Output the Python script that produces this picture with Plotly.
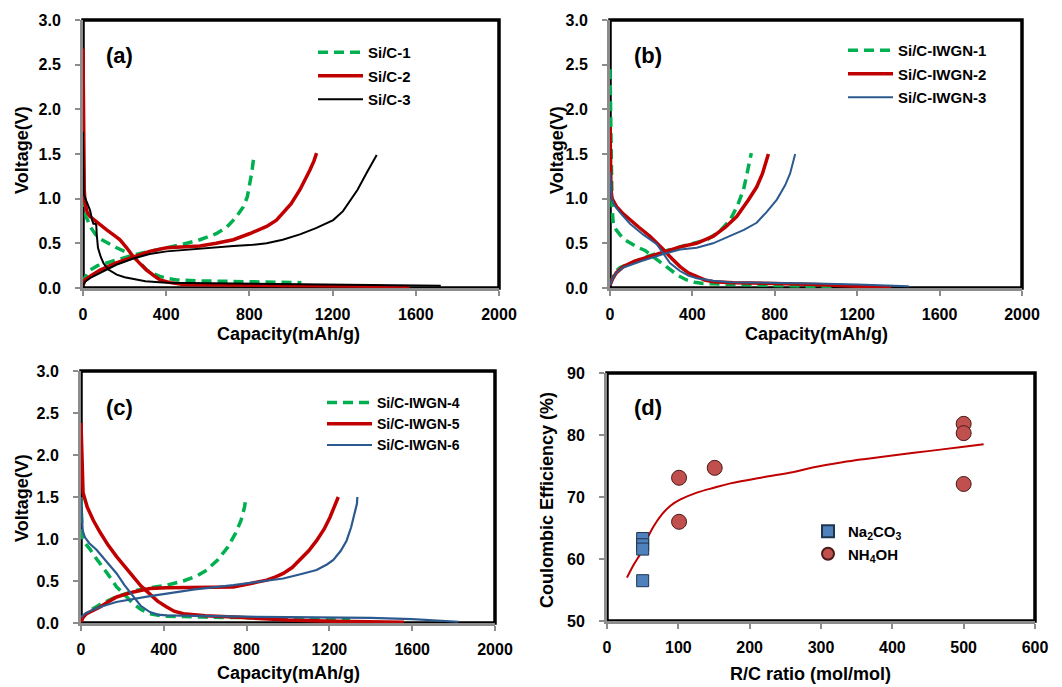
import plotly.graph_objects as go

W, H = 1062, 687
FONT = "Liberation Sans, Arial, sans-serif"
GREEN = "#00B050"
RED = "#C00000"
BLACK = "#000000"
BLUE = "#2C5A8F"

# ---------------- Panel (a) ----------------
a1_dis_x = [0, 5, 15, 34, 60, 82, 120, 162, 200, 242, 275, 306, 340, 370, 410, 450, 550, 700, 900, 1050]
a1_dis_y = [1.02, 0.92, 0.80, 0.69, 0.60, 0.55, 0.50, 0.45, 0.41, 0.35, 0.28, 0.20, 0.16, 0.13, 0.105, 0.09, 0.08, 0.075, 0.07, 0.06]
a1_chg_x = [0, 10, 34, 70, 114, 180, 242, 320, 402, 480, 562, 610, 643, 690, 723, 750, 771, 790, 803, 812, 819, 822]
a1_chg_y = [0.05, 0.12, 0.20, 0.25, 0.28, 0.33, 0.37, 0.41, 0.45, 0.49, 0.54, 0.58, 0.61, 0.68, 0.76, 0.84, 0.91, 1.02, 1.17, 1.30, 1.43, 1.46]

a2_dis_x = [0, 2, 4, 6, 10, 20, 34, 70, 114, 150, 178, 210, 242, 275, 306, 340, 370, 420, 482, 600, 800, 1000, 1200, 1400, 1570]
a2_dis_y = [2.68, 2.0, 1.4, 1.1, 0.95, 0.85, 0.80, 0.73, 0.65, 0.59, 0.54, 0.45, 0.35, 0.27, 0.20, 0.14, 0.09, 0.06, 0.04, 0.035, 0.03, 0.03, 0.025, 0.02, 0.0]
a2_chg_x = [0, 10, 40, 82, 160, 242, 320, 402, 480, 562, 640, 723, 803, 883, 930, 963, 1000, 1043, 1070, 1091, 1110, 1123]
a2_chg_y = [0.03, 0.09, 0.14, 0.20, 0.28, 0.35, 0.41, 0.45, 0.46, 0.47, 0.50, 0.54, 0.61, 0.69, 0.76, 0.84, 0.94, 1.10, 1.22, 1.32, 1.42, 1.51]

a3_dis_x = [0, 2, 4, 15, 34, 45, 50, 60, 64, 66, 68, 72, 85, 98, 120, 162, 200, 242, 300, 402, 600, 800, 1000, 1200, 1400, 1600, 1720]
a3_dis_y = [1.75, 1.3, 1.05, 0.98, 0.87, 0.75, 0.72, 0.72, 0.70, 0.60, 0.50, 0.45, 0.35, 0.28, 0.21, 0.15, 0.12, 0.10, 0.075, 0.06, 0.055, 0.05, 0.05, 0.045, 0.04, 0.03, 0.025]
a3_chg_x = [0, 10, 40, 82, 160, 242, 320, 402, 500, 600, 723, 800, 883, 960, 1043, 1120, 1203, 1250, 1284, 1320, 1364, 1390, 1412]
a3_chg_y = [0.03, 0.07, 0.12, 0.17, 0.26, 0.33, 0.38, 0.41, 0.43, 0.45, 0.47, 0.48, 0.50, 0.54, 0.60, 0.67, 0.76, 0.86, 0.97, 1.10, 1.29, 1.40, 1.49]

# ---------------- Panel (b) ----------------
b1_dis_x = [0, 2, 4, 6, 10, 16, 30, 65, 100, 130, 170, 210, 250, 291, 330, 372, 410, 453, 600, 800, 1000, 1100]
b1_dis_y = [2.45, 2.0, 1.4, 1.05, 0.90, 0.72, 0.65, 0.55, 0.50, 0.46, 0.42, 0.35, 0.28, 0.20, 0.14, 0.09, 0.065, 0.05, 0.04, 0.03, 0.02, 0.01]
b1_chg_x = [0, 10, 25, 49, 100, 178, 260, 340, 410, 470, 530, 583, 620, 648, 665, 680, 686]
b1_chg_y = [0.04, 0.10, 0.18, 0.23, 0.28, 0.35, 0.41, 0.46, 0.50, 0.54, 0.63, 0.76, 0.93, 1.10, 1.28, 1.43, 1.51]

b2_dis_x = [0, 2, 5, 10, 20, 32, 60, 97, 140, 194, 230, 259, 300, 340, 380, 421, 460, 502, 600, 800, 1000, 1200, 1365]
b2_dis_y = [1.8, 1.4, 1.1, 1.0, 0.95, 0.91, 0.84, 0.76, 0.68, 0.58, 0.50, 0.43, 0.33, 0.24, 0.17, 0.13, 0.09, 0.07, 0.06, 0.05, 0.04, 0.02, 0.01]
b2_chg_x = [0, 10, 30, 65, 120, 178, 259, 340, 420, 502, 560, 615, 670, 712, 740, 769]
b2_chg_y = [0.03, 0.09, 0.17, 0.24, 0.30, 0.34, 0.40, 0.46, 0.50, 0.58, 0.68, 0.80, 0.98, 1.13, 1.28, 1.50]

b3_dis_x = [0, 3, 8, 20, 50, 97, 160, 227, 260, 291, 340, 380, 421, 500, 583, 800, 1000, 1200, 1450]
b3_dis_y = [1.3, 1.1, 1.0, 0.93, 0.84, 0.72, 0.60, 0.49, 0.38, 0.28, 0.19, 0.14, 0.11, 0.08, 0.065, 0.06, 0.05, 0.04, 0.02]
b3_chg_x = [0, 10, 30, 65, 150, 259, 340, 421, 500, 583, 650, 712, 760, 810, 850, 874, 899]
b3_chg_y = [0.03, 0.09, 0.17, 0.23, 0.30, 0.38, 0.43, 0.45, 0.50, 0.58, 0.65, 0.73, 0.85, 0.99, 1.15, 1.28, 1.50]

# ---------------- Panel (c) ----------------
c1_dis_x = [0, 3, 6, 20, 43, 70, 92, 130, 172, 210, 253, 290, 333, 380, 414, 600, 800, 1000, 1200, 1300]
c1_dis_y = [1.5, 1.2, 1.02, 0.95, 0.88, 0.78, 0.71, 0.58, 0.43, 0.33, 0.23, 0.16, 0.11, 0.09, 0.08, 0.07, 0.065, 0.06, 0.05, 0.045]
c1_chg_x = [0, 20, 50, 92, 170, 253, 333, 414, 494, 560, 607, 660, 708, 745, 773, 790, 797]
c1_chg_y = [0.03, 0.10, 0.16, 0.22, 0.31, 0.38, 0.42, 0.45, 0.50, 0.56, 0.63, 0.75, 0.90, 1.06, 1.22, 1.38, 1.50]

c2_dis_x = [0, 3, 6, 10, 30, 60, 92, 130, 172, 210, 253, 290, 333, 370, 414, 450, 494, 600, 736, 900, 1000, 1219, 1400, 1560]
c2_dis_y = [2.38, 2.0, 1.7, 1.55, 1.38, 1.22, 1.08, 0.93, 0.79, 0.67, 0.55, 0.44, 0.35, 0.26, 0.19, 0.14, 0.11, 0.085, 0.07, 0.05, 0.035, 0.02, 0.015, 0.01]
c2_chg_x = [0, 10, 27, 60, 92, 130, 172, 253, 333, 414, 550, 736, 820, 897, 940, 977, 1020, 1058, 1100, 1138, 1175, 1203, 1225, 1243]
c2_chg_y = [0.01, 0.07, 0.11, 0.15, 0.19, 0.25, 0.31, 0.37, 0.41, 0.42, 0.42, 0.43, 0.47, 0.51, 0.55, 0.59, 0.66, 0.75, 0.86, 0.98, 1.12, 1.26, 1.38, 1.50]

c3_dis_x = [0, 3, 8, 19, 40, 76, 100, 130, 172, 210, 253, 290, 333, 370, 414, 600, 800, 1000, 1200, 1400, 1600, 1700, 1823]
c3_dis_y = [1.5, 1.3, 1.1, 1.02, 0.95, 0.87, 0.80, 0.71, 0.59, 0.45, 0.31, 0.20, 0.13, 0.10, 0.09, 0.08, 0.075, 0.07, 0.065, 0.06, 0.045, 0.035, 0.015]
c3_chg_x = [0, 20, 50, 92, 170, 253, 333, 414, 550, 736, 850, 977, 1060, 1138, 1190, 1219, 1255, 1283, 1305, 1323, 1333, 1335]
c3_chg_y = [0.07, 0.11, 0.15, 0.19, 0.25, 0.29, 0.32, 0.35, 0.40, 0.45, 0.49, 0.53, 0.58, 0.63, 0.70, 0.75, 0.86, 0.98, 1.14, 1.30, 1.42, 1.50]

# ---------------- Panel (d) ----------------
na_x = [50, 50, 50, 50]
na_y = [63.3, 62.3, 61.6, 56.5]
nh_x = [101, 101, 151, 500, 500, 500]
nh_y = [73.1, 66.0, 74.7, 81.8, 80.3, 72.1]
fit_x = [28, 37, 47, 56, 65, 77, 89, 103, 126, 150, 173, 219, 260, 290, 330, 360, 400, 450, 500, 528]
fit_y = [57.0, 59.0, 60.9, 63.2, 65.2, 67.2, 68.6, 69.6, 70.7, 71.5, 72.2, 73.2, 74.0, 74.8, 75.6, 76.1, 76.7, 77.4, 78.1, 78.5]

panels = [
    ("x", "y", "legend", [
        ("Si/C-1", a1_dis_x, a1_dis_y, a1_chg_x, a1_chg_y, GREEN, 3.5, "dash"),
        ("Si/C-2", a2_dis_x, a2_dis_y, a2_chg_x, a2_chg_y, RED, 3.5, "solid"),
        ("Si/C-3", a3_dis_x, a3_dis_y, a3_chg_x, a3_chg_y, BLACK, 2, "solid"),
    ]),
    ("x2", "y2", "legend2", [
        ("Si/C-IWGN-1", b1_dis_x, b1_dis_y, b1_chg_x, b1_chg_y, GREEN, 3.5, "dash"),
        ("Si/C-IWGN-2", b2_dis_x, b2_dis_y, b2_chg_x, b2_chg_y, RED, 3.5, "solid"),
        ("Si/C-IWGN-3", b3_dis_x, b3_dis_y, b3_chg_x, b3_chg_y, BLUE, 2, "solid"),
    ]),
    ("x3", "y3", "legend3", [
        ("Si/C-IWGN-4", c1_dis_x, c1_dis_y, c1_chg_x, c1_chg_y, GREEN, 3.5, "dash"),
        ("Si/C-IWGN-5", c2_dis_x, c2_dis_y, c2_chg_x, c2_chg_y, RED, 3.5, "solid"),
        ("Si/C-IWGN-6", c3_dis_x, c3_dis_y, c3_chg_x, c3_chg_y, BLUE, 2.2, "solid"),
    ]),
]

fig = go.Figure()
for xa, ya, lg, series in panels:
    for name, dx, dy, cx, cy, col, w, dash in series:
        fig.add_trace(go.Scatter(
            x=dx + [None] + cx, y=dy + [None] + cy, mode="lines", name=name,
            line=dict(color=col, width=w, dash="10px,6px" if dash == "dash" else "solid"),
            xaxis=xa, yaxis=ya, legend=lg, legendgroup=name, connectgaps=False))

fig.add_trace(go.Scatter(x=fit_x, y=fit_y, mode="lines", line=dict(color=RED, width=2),
                         xaxis="x4", yaxis="y4", showlegend=False, line_shape="spline"))
fig.add_trace(go.Scatter(x=na_x, y=na_y, mode="markers", name="Na<sub>2</sub>CO<sub>3</sub>",
                         marker=dict(symbol="square", size=12, color="#4F81BD",
                                     line=dict(color="#1F3550", width=1)),
                         xaxis="x4", yaxis="y4", legend="legend4", legendgroup="na"))
fig.add_trace(go.Scatter(x=nh_x, y=nh_y, mode="markers", name="NH<sub>4</sub>OH",
                         marker=dict(symbol="circle", size=15, color="#C0504D",
                                     line=dict(color="#4A1A19", width=1)),
                         xaxis="x4", yaxis="y4", legend="legend4", legendgroup="nh"))

def px_x(v):
    return v / W

def px_y(v):
    return 1 - v / H

tickfont = dict(family=FONT, size=16, color="black", weight="bold")
GRAY = "#8C8C8C"

boxes = {
    "a": (83, 499, 20, 288),
    "b": (610, 1022, 20, 288),
    "c": (81, 495, 371, 623),
    "d": (607, 1035, 373, 621),
}
axis_names = [("xaxis", "yaxis", "a"), ("xaxis2", "yaxis2", "b"), ("xaxis3", "yaxis3", "c"), ("xaxis4", "yaxis4", "d")]
layout = {}
for i, (xn, yn, key) in enumerate(axis_names):
    l, r, t, b = boxes[key]
    anchor_x = "y" if i == 0 else "y%d" % (i + 1)
    anchor_y = "x" if i == 0 else "x%d" % (i + 1)
    if key == "d":
        xr, xd, yr, yd, yf = [0, 600], 100, [50, 90], 10, "d"
    else:
        xr, xd, yr, yd, yf = [0, 2000], 400, [0, 3], 0.5, ".1f"
    layout[xn] = dict(domain=[px_x(l), px_x(r)], anchor=anchor_x, range=xr, dtick=xd, tick0=0,
                      showgrid=False, zeroline=False, showline=True, linecolor=GRAY, linewidth=2.5,
                      ticks="outside", ticklen=5, tickcolor=GRAY, tickwidth=1.5, tickfont=tickfont,
                      ticklabelstandoff=5, automargin=False)
    layout[yn] = dict(domain=[px_y(b), px_y(t)], anchor=anchor_y, range=yr, dtick=yd, tick0=0,
                      tickformat=yf, showgrid=False, zeroline=False, showline=True, linecolor=GRAY,
                      linewidth=3, ticks="outside", ticklen=5, tickcolor=GRAY, tickwidth=1.5,
                      tickfont=tickfont, ticklabelstandoff=11, automargin=False)

shapes = []
for key, (l, r, t, b) in boxes.items():
    shapes.append(dict(type="rect", xref="paper", yref="paper", x0=px_x(l), x1=px_x(r),
                       y0=px_y(b), y1=px_y(t), line=dict(color="black", width=3.5), layer="below"))

ann = []
title_font = dict(family=FONT, size=18, color="black", weight="bold")
def add_text(text, x, y, font, angle=0):
    ann.append(dict(text=text, x=px_x(x), y=px_y(y), xref="paper", yref="paper",
                    showarrow=False, xanchor="center", yanchor="middle", font=font, textangle=angle))

lab_font = dict(family=FONT, size=22, color="black", weight="bold")
add_text("(a)", 119, 55, lab_font)
add_text("(b)", 648, 55, lab_font)
add_text("(c)", 119, 407, lab_font)
add_text("(d)", 648, 407, lab_font)
add_text("Voltage(V)", 22, 150, title_font, -90)
add_text("Voltage(V)", 557, 150, title_font, -90)
add_text("Voltage(V)", 22, 498, title_font, -90)
add_text("Coulombic Efficiency (%)", 547, 500, title_font, -90)
add_text("Capacity(mAh/g)", 288, 334, title_font)
add_text("Capacity(mAh/g)", 816, 334, title_font)
add_text("Capacity(mAh/g)", 288, 673, title_font)
add_text("R/C ratio (mol/mol)", 810, 674, title_font)

def leg(x, y, size=15, gap=1):
    return dict(x=px_x(x), y=px_y(y), xanchor="left", yanchor="top", bgcolor="rgba(0,0,0,0)",
                font=dict(family=FONT, size=size, color="black", weight="bold"),
                tracegroupgap=gap, itemwidth=45)

fig.update_layout(
    width=W, height=H, margin=dict(l=0, r=0, t=0, b=0, autoexpand=False),
    paper_bgcolor="white", plot_bgcolor="white",
    showlegend=True,
    legend=leg(313, 36), legend2=leg(843, 34), legend3=leg(322, 387, size=14, gap=0),
    legend4=dict(x=px_x(808), y=px_y(515), xanchor="left", yanchor="top", bgcolor="rgba(0,0,0,0)",
                 font=dict(family=FONT, size=15, color="black", weight="bold"), itemsizing="constant",
                 tracegroupgap=0),
    shapes=shapes, annotations=ann, **layout)

fig.write_html("out.html", config={"displayModeBar": False},
               post_script="document.body.style.margin='0';document.body.style.padding='0';")
